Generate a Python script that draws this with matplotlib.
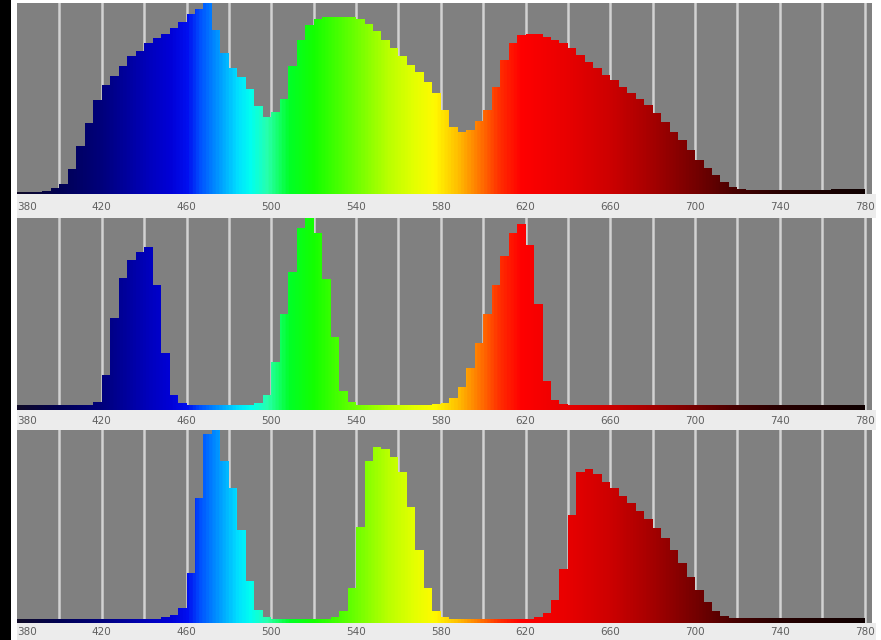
import numpy as np
import matplotlib
matplotlib.use("Agg")
import matplotlib.pyplot as plt
from matplotlib.colors import LinearSegmentedColormap
from matplotlib.patches import Rectangle

# spectrometer bins: 4 nm wide, starting at 380 nm
start_nm = 380
bin_nm = 4
tick_nm = [380, 420, 460, 500, 540, 580, 620, 660, 700, 740, 780]

# relative intensity per bin (0..100)
white_led = [1.2, 1.2, 1.2, 1.7, 3, 5, 13, 25, 37, 49,
             57, 62, 67, 72, 75, 79, 81.5, 84, 87, 90,
             94.5, 97, 100, 86, 74, 66, 61, 55, 46, 40.5,
             43, 50, 67, 80.5, 88.5, 91.4, 92.5, 92.8, 92.8, 92.5,
             91.4, 89, 85.5, 80.6, 76.3, 72, 67.5, 64, 58.8, 52.7,
             44, 35.3, 32.6, 33.5, 38, 44, 56, 70, 79, 83.2,
             84, 83.8, 82.4, 80.6, 79, 76.3, 72.8, 69.3, 65.8, 62.3,
             59.7, 56.2, 53, 50, 46.6, 42.2, 37.9, 32.6, 28.3, 23,
             17.8, 13.4, 10, 6.5, 3.8, 2.6, 2.3, 2.3, 2.3, 2.3,
             2.3, 2.3, 2.3, 2.3, 2.3, 2.3, 2.5, 2.6, 2.6, 2.8]

rgb_narrow = [2.5, 2.5, 2.5, 2.5, 2.5, 2.5, 2.5, 2.5, 2.5, 4.3,
              18, 48, 68.6, 78, 82.5, 85, 65, 29.5, 7.8, 3.5,
              2.6, 2.6, 2.6, 2.6, 2.6, 2.6, 2.6, 2.6, 3.5, 8,
              25, 50, 72, 95, 100, 92, 68, 38, 10, 4,
              2.8, 2.8, 2.8, 2.8, 2.8, 2.8, 2.8, 2.8, 2.8, 3,
              3.5, 6, 12, 22, 35, 50, 65, 80, 92, 97,
              86, 55, 15, 5, 3, 2.5, 2.5, 2.5, 2.5, 2.5,
              2.5, 2.5, 2.5, 2.5, 2.5, 2.5, 2.5, 2.5, 2.5, 2.5,
              2.5, 2.5, 2.5, 2.5, 2.5, 2.5, 2.5, 2.5, 2.5, 2.5,
              2.5, 2.5, 2.5, 2.5, 2.5, 2.5, 2.5, 2.5, 2.5, 2.5]

rgb_shifted = [1.9, 1.9, 1.9, 1.9, 1.9, 1.9, 1.9, 1.9, 1.9, 1.9,
               1.9, 1.9, 1.9, 1.9, 2, 2.1, 2.3, 3, 4, 8,
               26, 65, 98, 100, 84, 70, 48, 22, 6.7, 3.3,
               2.2, 2.2, 2.2, 2.2, 2.2, 2.2, 2.2, 3, 6, 18,
               50, 84, 91.4, 90, 86, 78, 60, 38, 18, 6,
               3, 2.3, 2.3, 2.3, 2.3, 2.3, 2.3, 2.3, 2.3, 2.3,
               2.3, 3, 5, 12, 28, 56, 78, 80, 77, 73,
               70, 66, 62, 58, 54, 49, 44, 38, 31, 24,
               17, 11, 6, 3.5, 2.4, 2.4, 2.4, 2.4, 2.4, 2.4,
               2.4, 2.4, 2.4, 2.4, 2.4, 2.4, 2.4, 2.4, 2.5, 2.6]

# colour of each wavelength (anchors for the gradient)
spec_nm = [380, 400, 420, 432, 442, 452, 460, 466, 472, 478, 484, 490, 498, 508,
           520, 540, 555, 568, 577, 588, 598, 608, 618, 640, 660, 680, 700,
           720, 740, 780]
spec_rgb = [(15, 10, 40), (0, 0, 85), (0, 0, 125), (0, 0, 160), (0, 0, 190), (0, 0, 215),
            (0, 15, 240), (0, 80, 255), (0, 130, 255), (0, 178, 255),
            (0, 225, 255), (0, 255, 240), (40, 255, 170), (0, 255, 40),
            (20, 255, 0), (110, 255, 0), (185, 255, 0), (230, 255, 0),
            (255, 250, 0), (255, 190, 0), (255, 120, 0), (255, 45, 0),
            (255, 0, 0), (232, 0, 0), (205, 0, 0), (165, 0, 0), (118, 0, 0),
            (70, 0, 0), (40, 0, 0), (15, 0, 0)]

W, H = 881, 640
# (values, top px, bottom px, label band bottom px, label pad)
panels = [(white_led, 3, 194, 218, 5.5),
          (rgb_narrow, 218, 410, 430, 4.3),
          (rgb_shifted, 430, 623, 640, 3.0)]
left_px, right_px = 17, 872

cmap = LinearSegmentedColormap.from_list(
    "spectrum",
    [((nm - 380) / 400.0, tuple(c / 255.0 for c in rgb)) for nm, rgb in zip(spec_nm, spec_rgb)])

fig = plt.figure(figsize=(W / 100, H / 100), dpi=100)
fig.patch.set_facecolor("white")

# black strip on the left edge
fig.add_artist(Rectangle((0, 0), 11 / W, 1, transform=fig.transFigure,
                         facecolor="black", edgecolor="none", zorder=-1))

grad = np.linspace(380, 780, 1601).reshape(1, -1)
x_right = 780 + (right_px - 864.6) / 2.116

for vals, top, bot, band_bot, pad in panels:
    # light label band under each panel
    fig.add_artist(Rectangle((left_px / W, 1 - band_bot / H), (right_px + 4 - left_px) / W,
                             (band_bot - bot) / H, transform=fig.transFigure,
                             facecolor="#ececec", edgecolor="none", zorder=-1))

    ax = fig.add_axes([left_px / W, 1 - bot / H, (right_px - left_px) / W, (bot - top) / H])
    ax.set_facecolor("#808080")
    for s in ax.spines.values():
        s.set_visible(False)

    ax.vlines(np.arange(400, 781, 20), 0, 101, colors="#d2d2d2", lw=1.8, zorder=1)

    edges = start_nm + bin_nm * np.arange(len(vals) + 1)
    y = list(vals) + [vals[-1]]
    poly = ax.fill_between(edges, y, 0, step="post", facecolor="none", edgecolor="none", zorder=2)
    im = ax.imshow(grad, extent=[380, 780, 0, 100], aspect="auto", cmap=cmap,
                   vmin=380, vmax=780, interpolation="bilinear", zorder=3)
    im.set_clip_path(poly.get_paths()[0], ax.transData)

    ax.set_xlim(380, x_right)
    ax.set_ylim(0, 100)
    ax.set_yticks([])
    ax.set_xticks(tick_nm)
    ax.set_xticklabels([str(t) for t in tick_nm])
    ax.tick_params(axis="x", length=0, pad=pad, labelsize=7.5, labelcolor="#5f5f5f")
    ax.get_xticklabels()[0].set_horizontalalignment("left")

fig.savefig("out.png", dpi=100)
